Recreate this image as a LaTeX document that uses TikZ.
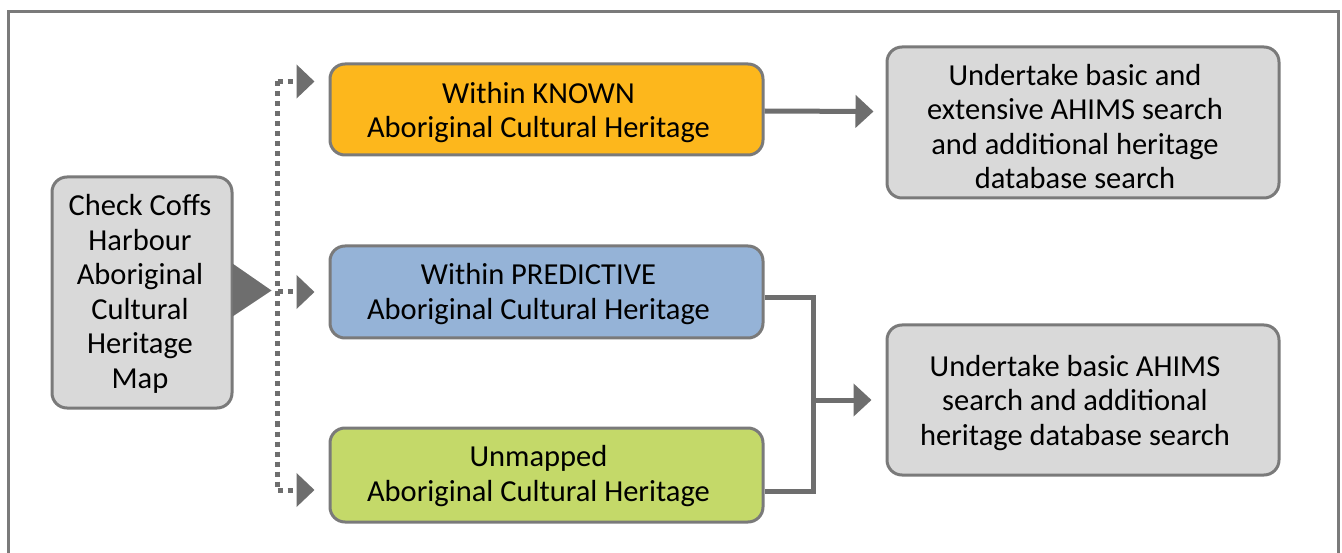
\documentclass[tikz,border=0pt]{standalone}
\usepackage{fontspec}
\setmainfont{Carlito}
\usetikzlibrary{arrows.meta,calc}
\definecolor{boxgray}{HTML}{D9D9D9}
\definecolor{edgegray}{HTML}{7A7A7A}
\definecolor{linkgray}{HTML}{6E6E6E}
\definecolor{known}{HTML}{FDB71C}
\definecolor{predictive}{HTML}{95B3D7}
\definecolor{unmapped}{HTML}{C4D969}
\tikzset{
  box/.style={draw=edgegray, line width=3pt, rounded corners=15pt, inner sep=0pt},
  boxtext/.style={align=center, inner sep=0pt, font=\fontsize{30.5}{34.5}\selectfont},
  link/.style={draw=linkgray, line width=5pt},
  conn/.style={link, -{Triangle[length=18pt,width=32pt]}},
  dotlink/.style={draw=linkgray, line width=5pt, dash pattern=on 5pt off 5pt},
  dotconn/.style={dotlink, -{Triangle[length=18pt,width=33pt]}},
  frame/.style={draw=edgegray, line width=3pt},
}
\begin{document}
\begin{tikzpicture}[x=1pt,y=-1pt]
\useasboundingbox (0,0) rectangle (1342,553);
\clip (0,0) rectangle (1342,553);
\fill[white] (0,0) rectangle (1342,553);

% outer frame, open at the bottom edge
\draw[frame] (8,570) -- (8,12) -- (1338,12) -- (1338,570);

% boxes
\node[box, fill=boxgray, minimum width=180pt, minimum height=231pt] (map) at (142,292.5) {};
\node[box, fill=known, minimum width=433pt, minimum height=91pt] (known) at (546.5,109.5) {};
\node[box, fill=predictive, minimum width=433pt, minimum height=92pt] (pred) at (546.5,292) {};
\node[box, fill=unmapped, minimum width=433pt, minimum height=94pt] (unm) at (546.5,475) {};
\node[box, fill=boxgray, minimum width=392pt, minimum height=151pt] (full) at (1083,122.5) {};
\node[box, fill=boxgray, minimum width=392pt, minimum height=150pt] (basic) at (1083,400) {};

% box texts, set a little left of and below each box centre
\node[boxtext] (mapt) at ($(map.center)+(-2,1.5)$)
  {Check Coffs\\Harbour\\Aboriginal\\Cultural\\Heritage\\Map};
\node[boxtext] (knownt) at ($(known.center)+(-8,3)$)
  {Within KNOWN\\Aboriginal Cultural Heritage};
\node[boxtext] (predt) at ($(pred.center)+(-8,2)$)
  {Within PREDICTIVE\\Aboriginal Cultural Heritage};
\node[boxtext] (unmt) at ($(unm.center)+(-8,1)$)
  {Unmapped\\Aboriginal Cultural Heritage};
\node[boxtext] (fullt) at ($(full.center)+(-8,4)$)
  {Undertake basic and\\extensive AHIMS search\\and additional heritage\\database search};
\node[boxtext] (basict) at ($(basic.center)+(-8,3)$)
  {Undertake basic AHIMS\\search and additional\\heritage database search};

% pointer on the map box
\fill[linkgray] ($(map.east)+(-1,-29)$) -- ($(map.east)+(38,-2)$) -- ($(map.east)+(-1,24)$) -- cycle;

% dotted branches to the three categories
\coordinate (top) at ($(known.west)+(-51,-28)$);
\coordinate (bot) at ($(unm.west)+(-51,15)$);
\draw[dotlink] (top) -- (bot);
\draw[dotconn] (top) -- ($(known.west)+(-14,-28)$);
\draw[dotconn] (top |- pred.west) -- ($(pred.west)+(-14,0)$);
\draw[dotconn] (bot) -- ($(unm.west)+(-14,15)$);

% actions
\draw[conn] ($(known.east)+(0,1.5)$) -- ($(full.west)+(-12,-11)$);
\draw[link] ($(pred.east)+(0,6)$) -- ++(49,0) coordinate (j) |- ($(unm.east)+(0,16)$);
\draw[conn] (j |- basic.west) -- ($(basic.west)+(-14,0)$);
\end{tikzpicture}
\end{document}
